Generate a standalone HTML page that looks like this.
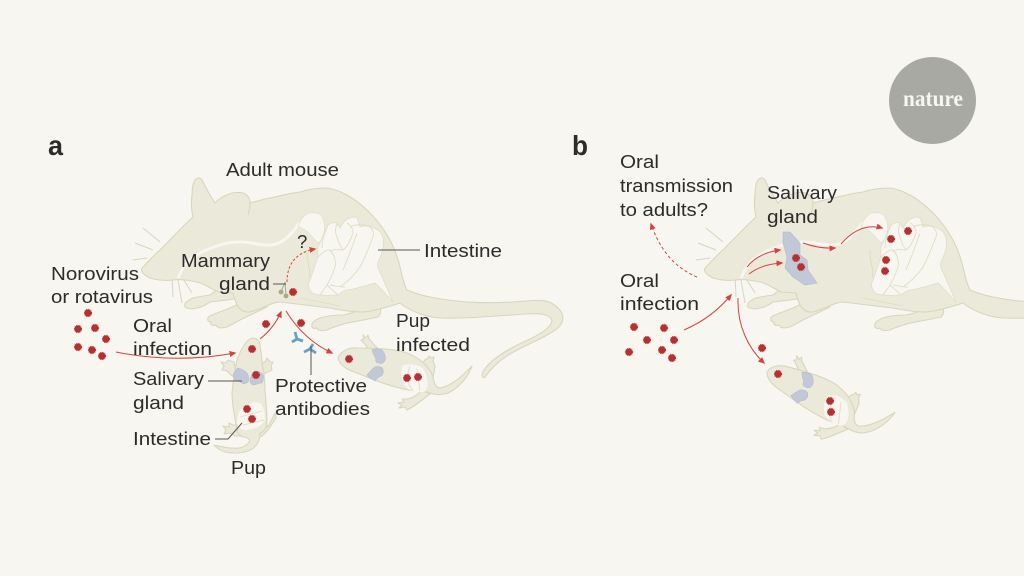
<!DOCTYPE html>
<html><head><meta charset="utf-8"><style>
html,body{margin:0;padding:0;background:#f7f6f0;width:1024px;height:576px;overflow:hidden}
svg{display:block}
text{font-family:"Liberation Sans",sans-serif;font-size:18.5px;fill:#2c2c2c}
.ar{fill:none;stroke:#d8423c;stroke-width:1}
.ld{fill:none;stroke:#555;stroke-width:1}
.tan{fill:#ebe9da;stroke:#d9d6bc;stroke-width:1.1;stroke-linejoin:round}
.wh{fill:#f7f6f0;stroke:#e0ddc6;stroke-width:.8}
.in{fill:none;stroke:#e0ddc6;stroke-width:.9}
.gl{fill:#c3c8d8;stroke:#b4bace;stroke-width:.6}
.ab{fill:none;stroke:#659fcb;stroke-width:2.8}
</style></head><body>
<svg width="1024" height="576" viewBox="0 0 1024 576" xmlns="http://www.w3.org/2000/svg">
<defs>
<marker id="h" markerWidth="7" markerHeight="6" refX="5.5" refY="3" orient="auto" markerUnits="userSpaceOnUse"><path d="M0,0L7,3L0,6Z" fill="#d8423c"/></marker>
<g id="v"><circle r="3.5" fill="#b5302f"/><circle r="3.7" fill="none" stroke="#b5302f" stroke-width=".8" stroke-dasharray="1 .7"/></g>
<g id="mouse">
<path fill="none" stroke="#d9d6bc" stroke-width="1" d="M160,242L143,228M153,250L135,243M147,258L133,260M172,275L173,297M178,280L182,303M182,277L192,293"/>
<path class="tan" d="M217,290L210,295C203,296 197,297 193,298C188,300 184,303 185,305C184,307 186,308 187,308C190,309 194,309 197,308C203,307 207,304 210,302C220,301 228,300 240,298L230,285Z"/>
<path class="tan" d="M247,300L230,308L217,313C212,315 208,316 208,318C207,321 209,322 211,322C210,325 213,326 216,325C218,329 222,328 227,327L240,320L267,307L262,295Z"/>
<path class="tan" d="M363,308C355,312 350,314 343,315C333,315 326,316 320,318C315,320 311,323 312,325C311,328 314,329 317,328C318,331 322,331 327,330C333,327 340,325 347,323C358,321 370,319 378,317C381,314 381,311 380,308Z"/>
<path class="tan" d="M142,268C148,262 154,255 160,250C172,238 183,226 193,217C191,208 191,202 192,196C192,189 193,183 195,180C198,177 201,177 203,182C207,190 211,197 215,203C219,199 223,196 227,195C232,192 239,192 243,193C248,195 250,199 250,203C258,201 264,199 270,198C280,196 290,193 300,192C309,189 318,188 327,188C335,189 341,192 347,195C356,200 363,206 370,213C378,221 385,231 390,240C394,248 398,258 400,267C402,276 404,285 407,290C425,298 465,305 513,302C530,301 545,298 553,304C564,311 566,320 558,328C545,338 525,345 510,354C498,361 490,370 485,377C482,379 481,375 484,370C492,358 510,348 530,339C542,333 552,327 552,320C549,314 540,313 525,314C495,316 465,319 440,318C425,317 410,311 400,303C388,307 375,311 363,312C352,312 340,310 330,308C313,306 296,304 280,302C272,302 262,309 250,312C240,313 236,306 233,293L218,292C210,288 205,284 197,282C188,280 180,279 173,280C165,281 157,280 150,278C144,275 140,271 142,268Z"/>
<path d="M248,215C250,208 250,204 250,203" fill="none" stroke="#d9d6bc"/>
<path d="M178,278C183,266 190,258 193,258C200,252 208,249 217,246C225,243 233,242 240,242C252,242 262,246 270,245C282,245 292,234 300,222" fill="none" stroke="#f7f6f0" stroke-width="3"/>
<path fill="#f7f6f0" stroke="#e0ddc6" stroke-width=".6" d="M298,226C301,218 306,213 310,213C316,212 321,214 322,217C325,222 325,228 324,233C323,238 321,241 318,243C315,240 312,237 309,233C306,230 302,229 298,226Z"/>
<path class="wh" d="M318,247L328,225C331,223 334,222 337,223L340,228C343,222 346,219 350,218C354,216 357,217 358,220L360,227C365,225 369,226 372,227C377,229 381,232 382,235C384,240 384,244 383,248C382,254 380,258 378,262C377,266 378,269 380,272L393,302L380,288L375,283C368,285 362,287 357,288C353,289 349,290 347,290C342,291 340,294 338,295C333,295 327,296 322,295C316,295 312,294 310,290C308,286 308,284 310,280C313,272 315,266 317,260C318,255 318,251 318,247Z"/>
<path class="in" d="M317,258C322,253 327,249 330,250C335,255 336,262 335,267C333,273 330,280 327,285C324,289 322,292 320,295M337,223C335,230 335,233 337,237C339,243 341,248 343,250C347,247 351,240 353,233C353,229 351,225 347,223M350,227C355,224 365,224 370,227C374,231 374,234 373,237C369,247 365,258 360,267C354,276 347,282 340,287M343,270C348,258 353,245 357,233M328,225C325,231 322,240 322,248M330,285C336,286 340,287 345,287M338,295C333,290 330,288 327,285M330,252C334,248 340,250 343,250"/>
<path d="M307,250C306,262 312,270 309,278" fill="none" stroke="#d9d6bc" stroke-width=".7"/>
<path d="M300,298L340,306" fill="none" stroke="#d9d6bc" stroke-width=".6"/>
</g>
<g id="pup">
<path class="tan" d="M382,352C377,348 374,345 372,342L369,339L368,335L366,338L363,335L364,339L361,340L364,343L368,348L372,353Z"/>
<path class="tan" d="M421,365L425,360L428,358L429,356L431,358L434,357L433,361L435,366L433,378L427,378Z"/>
<path class="tan" d="M422,390C417,396 412,398 408,399L402,399L404,402L398,403L402,405L399,408L405,407L407,410L414,406L430,394Z"/>
<path class="tan" d="M338,358C340,351 350,347 358,348C375,348 395,349 407,353C420,358 430,367 433,377C434,384 436,388 440,388C452,386 463,375 472,366C468,377 459,388 448,393C440,396 432,394 427,392C415,391 405,390 400,388C385,385 370,378 357,373C348,370 340,366 338,358Z"/>
<path d="M402,366C408,363 420,364 424,370C428,378 430,388 424,392C416,393 408,390 404,385C401,378 401,372 402,366Z" fill="#f7f6f0"/>
<path class="in" d="M410,366C406,376 408,386 413,390M417,369L420,391"/>
<path class="gl" d="M372,350C376,348 381,349 383,351C385,354 386,358 385,360C384,363 381,364 379,363C376,363 375,361 376,358C374,356 373,353 372,350Z"/>
<path class="gl" d="M367,375C370,372 372,369 375,367C379,366 383,367 383,370C384,373 382,376 379,377C377,378 376,380 375,381C372,379 369,377 367,375Z"/>
</g>
</defs>

<!-- panel a -->
<use href="#mouse"/>
<use href="#pup"/>
<!-- pup a drawn in place -->
<path class="tan" d="M234,362L228,360L226,363L221,362L224,366L222,370L227,371L232,376L238,378Z"/>
<path class="tan" d="M259,364L265,362L267,358L270,362L273,362L271,366L272,370L265,373L261,380Z"/>
<path class="tan" d="M240,426L233,425L229,423L229,427L223,426L226,430L224,434L230,433L235,436L243,436Z"/>
<path class="tan" d="M262,418L268,427L275,413L276,418L268,430L262,436L258,436Z"/>
<path class="tan" d="M252,338C257,338 260,341 260,346C261,352 262,358 262,363C264,372 265,382 265,390C266,405 268,418 266,428C263,433 259,433 260,434C260,440 257,446 252,449C246,453 235,454 225,452C220,450 216,448 214,445C219,446 225,448 232,448C240,449 246,447 250,441C248,437 245,437 243,437C240,436 237,433 237,430C235,418 232,405 232,393C233,382 235,370 237,360C240,352 245,340 252,338Z"/>
<path d="M240,410L253,402C258,402 261,403 262,405C264,410 265,416 265,420C263,424 260,426 257,427C252,429 247,431 243,430C240,428 238,426 237,423C237,418 238,414 240,410Z" fill="#f7f6f0"/>
<path class="in" d="M240,417L262,411M243,425L264,420"/>
<path class="gl" d="M233,375C235,372 236,369 238,368C242,369 245,371 247,373C249,376 249,380 248,382C245,384 243,384 242,383C240,381 237,381 235,380C234,378 233,377 233,375Z"/>
<path class="gl" d="M250,380C251,376 253,372 255,371C259,371 262,373 263,375C264,378 263,381 262,383C258,383 256,385 253,385C251,384 250,382 250,380Z"/>
<!-- gland -->
<path d="M285,282L281,292M285,282L286,296" stroke="#a9a98a" fill="none"/>
<circle cx="281" cy="292" r="2.4" fill="#a9a98a"/><circle cx="286" cy="296" r="2.4" fill="#a9a98a"/>
<path class="ab" d="M292,342L297,339L303,341M297,339L295,332"/>
<path class="ab" d="M304,352L310,349L316,353M310,349L313,344"/>

<path class="ar" marker-end="url(#h)" d="M116,352Q175,364 235,353"/>
<path class="ar" marker-end="url(#h)" d="M260,339Q274,328 281,312"/>
<path class="ar" marker-end="url(#h)" d="M286,311Q304,340 332,353"/>
<path class="ar" marker-end="url(#h)" stroke-dasharray="2.5 2" d="M287,282C287,262 298,252 315,249"/>

<path class="ld" d="M378,250H420M273,284H286M208,381H242M311,346V375M215,439H228L242,423"/>

<g>
<use href="#v" x="88" y="313"/><use href="#v" x="78" y="329"/><use href="#v" x="95" y="328"/><use href="#v" x="106" y="339"/><use href="#v" x="78" y="347"/><use href="#v" x="92" y="350"/><use href="#v" x="102" y="356"/>
<use href="#v" x="266" y="324"/><use href="#v" x="301" y="323"/><use href="#v" x="293" y="292"/>
<use href="#v" x="252" y="349"/><use href="#v" x="256" y="375"/><use href="#v" x="247" y="409"/><use href="#v" x="252" y="419"/>
<use href="#v" x="349" y="359"/><use href="#v" x="407" y="378"/><use href="#v" x="418" y="377"/>
</g>

<text x="48" y="155" style="font-size:28px;font-weight:bold" textLength="15" lengthAdjust="spacingAndGlyphs">a</text>
<text x="226" y="176" textLength="113" lengthAdjust="spacingAndGlyphs">Adult mouse</text>
<text x="424" y="257" textLength="78" lengthAdjust="spacingAndGlyphs">Intestine</text>
<text x="51" y="280" textLength="88" lengthAdjust="spacingAndGlyphs">Norovirus</text>
<text x="51" y="303" textLength="102" lengthAdjust="spacingAndGlyphs">or rotavirus</text>
<text x="181" y="267" textLength="89" lengthAdjust="spacingAndGlyphs">Mammary</text>
<text x="219" y="290" textLength="51" lengthAdjust="spacingAndGlyphs">gland</text>
<text x="133" y="332" textLength="39" lengthAdjust="spacingAndGlyphs">Oral</text>
<text x="133" y="355" textLength="79" lengthAdjust="spacingAndGlyphs">infection</text>
<text x="133" y="385" textLength="71" lengthAdjust="spacingAndGlyphs">Salivary</text>
<text x="133" y="409" textLength="51" lengthAdjust="spacingAndGlyphs">gland</text>
<text x="133" y="445" textLength="78" lengthAdjust="spacingAndGlyphs">Intestine</text>
<text x="231" y="474" textLength="35" lengthAdjust="spacingAndGlyphs">Pup</text>
<text x="275" y="392" textLength="92" lengthAdjust="spacingAndGlyphs">Protective</text>
<text x="275" y="415" textLength="95" lengthAdjust="spacingAndGlyphs">antibodies</text>
<text x="396" y="327" textLength="34" lengthAdjust="spacingAndGlyphs">Pup</text>
<text x="396" y="351" textLength="74" lengthAdjust="spacingAndGlyphs">infected</text>
<text x="297" y="248">?</text>

<!-- panel b -->
<g transform="translate(563,0)"><use href="#mouse"/></g>
<use href="#pup" transform="translate(767,372) rotate(31) rotate(-16.9) translate(-338,-358)"/>
<path class="gl" d="M783,232L790,232L800,243L800,255L807,260L808,270L817,283L805,285L793,277L785,268L787,257L783,243Z"/>

<path class="ar" marker-end="url(#h)" d="M684,330Q712,318 731,295"/>
<path class="ar" marker-end="url(#h)" d="M738,298C737,325 748,348 764,363"/>
<path class="ar" marker-end="url(#h)" stroke-dasharray="3 2.5" d="M697,277C675,268 660,250 651,224"/>
<path class="ar" marker-end="url(#h)" d="M747,267Q758,253 780,250"/>
<path class="ar" marker-end="url(#h)" d="M749,274Q762,264 782,263"/>
<path class="ar" marker-end="url(#h)" d="M803,243Q820,249 835,248"/>
<path class="ar" marker-end="url(#h)" d="M841,244Q860,222 882,228"/>

<g>
<use href="#v" x="634" y="327"/><use href="#v" x="664" y="328"/><use href="#v" x="647" y="340"/><use href="#v" x="674" y="340"/><use href="#v" x="629" y="352"/><use href="#v" x="662" y="350"/><use href="#v" x="672" y="358"/>
<use href="#v" x="796" y="258"/><use href="#v" x="801" y="267"/><use href="#v" x="891" y="239"/><use href="#v" x="908" y="231"/><use href="#v" x="886" y="260"/><use href="#v" x="885" y="271"/>
<use href="#v" x="762" y="348"/><use href="#v" x="778" y="374"/><use href="#v" x="830" y="401"/><use href="#v" x="831" y="412"/>
</g>

<text x="572" y="155" style="font-size:28px;font-weight:bold" textLength="16" lengthAdjust="spacingAndGlyphs">b</text>
<text x="620" y="168" textLength="39" lengthAdjust="spacingAndGlyphs">Oral</text>
<text x="620" y="192" textLength="113" lengthAdjust="spacingAndGlyphs">transmission</text>
<text x="620" y="216" textLength="88" lengthAdjust="spacingAndGlyphs">to adults?</text>
<text x="767" y="199" textLength="70" lengthAdjust="spacingAndGlyphs">Salivary</text>
<text x="767" y="223" textLength="51" lengthAdjust="spacingAndGlyphs">gland</text>
<text x="620" y="287" textLength="39" lengthAdjust="spacingAndGlyphs">Oral</text>
<text x="620" y="310" textLength="79" lengthAdjust="spacingAndGlyphs">infection</text>

<circle cx="932.5" cy="100.5" r="43.5" fill="#a9a9a4"/>
<text x="903" y="106" style="font-family:'Liberation Serif',serif;font-size:23px;font-weight:bold;fill:#f7f6f0" textLength="60" lengthAdjust="spacingAndGlyphs">nature</text>
</svg>
</body></html>
